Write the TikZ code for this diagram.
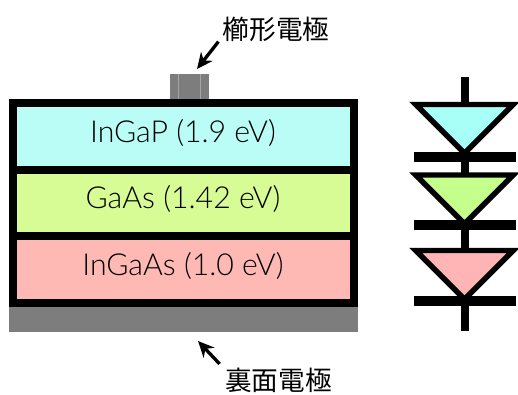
\documentclass[tikz,border=0pt]{standalone}
\usepackage{fontspec}
\usepackage{tikz}
\setmainfont{Lato Light}
\newfontfamily\jpfont{Noto Sans CJK JP}
\usetikzlibrary{arrows.meta}

\definecolor{gapcyan}{HTML}{B9FDF6}
\definecolor{gapgreen}{HTML}{D7FB95}
\definecolor{gappink}{HTML}{FFB9B5}
\definecolor{diodecyan}{HTML}{A8FFF8}
\definecolor{diodegreen}{HTML}{C5FF8C}
\definecolor{diodepink}{HTML}{FFB5B5}
\definecolor{elecgray}{HTML}{7D7D7D}

\tikzset{
    layer/.style={draw=black, line width=6pt, minimum width=255.75pt, minimum height=50pt, inner sep=0pt, outer sep=0pt},
    bandtext/.style={inner sep=0pt, font=\fontsize{22.7}{22.7}\selectfont},
    electrode/.style={fill=elecgray, inner sep=0pt, outer sep=0pt},
    caption/.style={inner sep=0pt, font=\jpfont\fontsize{20}{20}\selectfont},
    pointer/.style={-{Stealth[length=12pt,width=11pt]}, line width=2.5pt},
    diode/.style={draw=black, line width=4.1pt, miter limit=10},
    plate/.style={line width=7.5pt},
}

\begin{document}
\begin{tikzpicture}[x=0.75pt,y=-0.75pt]
    \useasboundingbox (0,0) rectangle (518,394);

    \node[electrode, minimum width=29.25pt, minimum height=19.5pt] (combelec) at (189.5,86.5) {};
    \draw[gray!70, line width=0.5pt] (178,74)--(178,99);
    \draw[gray!70, line width=0.5pt] (200,74)--(200,99);
    \node[electrode, minimum width=261.75pt, minimum height=18.75pt] (backelec) at (183.5,319.5) {};

    \node[layer, fill=gapcyan] (ingap) at (183.5,136.5) {};
    \node[layer, fill=gapgreen] (gaas) at (183.5,203.25) {};
    \node[layer, fill=gappink] (ingaas) at (183.5,269.75) {};
    \node[bandtext] (ingaptext) at (183,133) {InGaP (1.9 eV)};
    \node[bandtext] (gaastext) at (183,199) {GaAs (1.42 eV)};
    \node[bandtext] (ingaastext) at (183,265.5) {InGaAs (1.0 eV)};

    \node[caption] (combword) at (276,29) {櫛形電極};
    \node[caption] (backword) at (278.5,380.5) {裏面電極};
    \coordinate (combtip) at (197,69);
    \coordinate (backtip) at (198,341);
    \draw[pointer] ([xshift=-3pt]combword.south west)--(combtip);
    \draw[pointer] ([shift={(-4pt,3pt)}]backword.north west)--(backtip);

    \coordinate (wiretop) at (464.5,77);
    \coordinate (wirebot) at (464.5,331);
    \draw[line width=6pt] (wiretop)--(wirebot);

    \draw[diode, fill=diodecyan] (415.7,104.5)--(513.3,104.5)--(464.5,153.3)--cycle;
    \draw[diode, fill=diodegreen] (415.7,175)--(513.3,175)--(464.5,223.8)--cycle;
    \draw[diode, fill=diodepink] (415.7,250.5)--(513.3,250.5)--(464.5,299.3)--cycle;

    \draw[plate] (413.5,156.5)--(515.5,156.5);
    \draw[plate] (413.5,225)--(515.5,225);
    \draw[plate] (413.5,301)--(515.5,301);
\end{tikzpicture}
\end{document}
